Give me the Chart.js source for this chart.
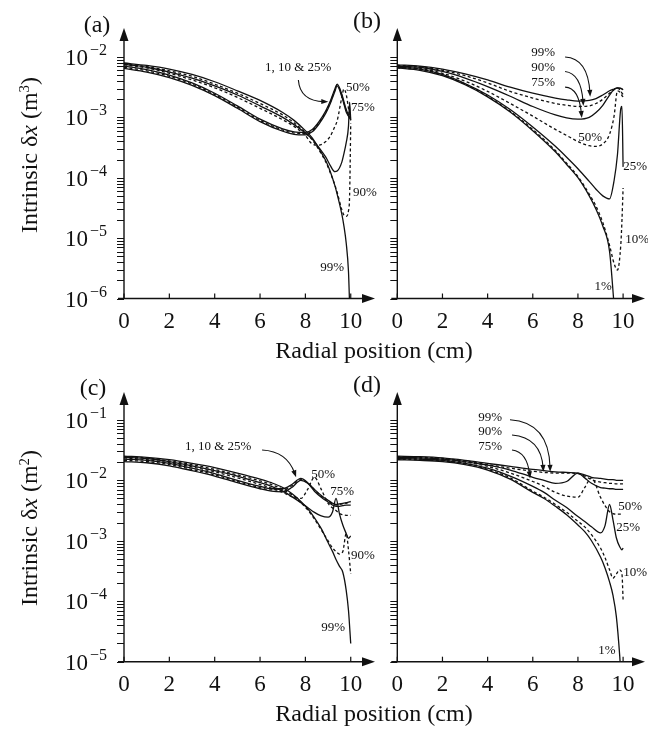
<!DOCTYPE html>
<html lang="en">

<head>
    <meta charset="UTF-8">
    <title>Intrinsic dx vs radial position</title>
    <script src="https://cdn.jsdelivr.net/npm/chart.js"></script>
    <style>
        body { margin: 0; background: #fff; }
        #wrap { position: relative; width: 648px; height: 731px; font-family: "Liberation Serif", "DejaVu Serif", serif; color: #111; }
        #wrap canvas { position: absolute; left: 0; top: 0; }
        .txt { position: absolute; white-space: nowrap; line-height: 1; transform: translate(-50%, -50%); font-size: 24px; }
        .ytitle { transform: translate(-50%, -50%) rotate(-90deg); }
        .txt sup { font-size: 0.62em; vertical-align: 0.55em; line-height: 0; }
    </style>
</head>

<body>
    <div id="wrap">
        <canvas id="pa" width="648" height="731"></canvas>
        <canvas id="pb" width="648" height="731"></canvas>
        <canvas id="pc" width="648" height="731"></canvas>
        <canvas id="pd" width="648" height="731"></canvas>
        <div class="txt" style="left:97px;top:24px">(a)</div>
        <div class="txt" style="left:367px;top:20px">(b)</div>
        <div class="txt" style="left:93px;top:387px">(c)</div>
        <div class="txt" style="left:367px;top:384px">(d)</div>
        <div class="txt ytitle" style="left:29px;top:155px">Intrinsic δ<i>x</i> (m<sup>3</sup>)</div>
        <div class="txt ytitle" style="left:29px;top:528px">Intrinsic δ<i>x</i> (m<sup>2</sup>)</div>
        <div class="txt" style="left:374px;top:350px">Radial position (cm)</div>
        <div class="txt" style="left:374px;top:713px">Radial position (cm)</div>
    </div>

    <script>
        // tick labels
        const xTicks = [0, 2, 4, 6, 8, 10];
        const mantissas = [1, 2, 3, 4, 5, 6, 7, 8, 9];
        const decadesTop = [-6, -5, -4, -3, -2];
        const decadesBottom = [-5, -4, -3, -2, -1];

        // curve values, stored as log10 of intrinsic dx
        // panel (a)
        const xA = [0, 1, 2, 3, 4, 5, 6, 7, 7.5, 8, 8.3, 8.6, 8.9, 9.1, 9.3, 9.4, 9.6, 9.7, 9.8, 9.9, 9.95, 10];
        const a99 = [-2.10, -2.14, -2.20, -2.29, -2.41, -2.56, -2.72, -2.92, -3.05, -3.22, -3.34, -3.52, -3.72, -3.90, -4.13, -4.27, -4.59, -4.80, -5.08, -5.55, -6.1, null];
        const a90 = [-2.11, -2.16, -2.23, -2.32, -2.45, -2.60, -2.77, -2.96, -3.09, -3.25, -3.37, -3.54, -3.74, -3.92, -4.12, -4.24, -4.52, -4.62, -4.64, -4.55, -4.3, -3.1];
        const a75 = [-2.12, -2.17, -2.25, -2.35, -2.48, -2.63, -2.81, -3.00, -3.12, -3.26, -3.36, -3.50, -3.66, -3.80, -3.90, -3.89, -3.75, -3.60, -3.42, -3.15, -2.75, -3.05];
        const a50 = [-2.13, -2.18, -2.27, -2.38, -2.51, -2.67, -2.85, -3.04, -3.15, -3.30, -3.44, -3.46, -3.40, -3.31, -3.15, -3.06, -2.68, -2.53, -2.62, -2.85, -2.98, -3.05];
        const a25 = [-2.15, -2.21, -2.30, -2.43, -2.60, -2.81, -3.03, -3.19, -3.24, -3.25, -3.20, -3.07, -2.89, -2.73, -2.53, -2.45, -2.61, -2.74, -2.87, -2.96, -2.99, -3.01];
        const a10 = [-2.17, -2.23, -2.32, -2.45, -2.62, -2.83, -3.05, -3.21, -3.26, -3.27, -3.22, -3.09, -2.91, -2.75, -2.55, -2.46, -2.63, -2.76, -2.89, -2.97, -3.00, -3.02];
        const a1 = [-2.19, -2.25, -2.34, -2.47, -2.64, -2.85, -3.07, -3.23, -3.28, -3.29, -3.24, -3.11, -2.93, -2.77, -2.57, -2.48, -2.65, -2.78, -2.91, -2.98, -3.01, -3.03];

        // panel (b)
        const xB = [0, 1, 2, 3, 4, 5, 6, 7, 7.5, 8, 8.5, 8.8, 9.1, 9.4, 9.6, 9.75, 9.9, 9.95, 10];
        const b99 = [-2.13, -2.15, -2.20, -2.28, -2.38, -2.50, -2.60, -2.68, -2.71, -2.73, -2.72, -2.69, -2.63, -2.56, -2.53, -2.51, -2.52, -2.53, -2.54];
        const b90 = [-2.14, -2.16, -2.22, -2.31, -2.43, -2.57, -2.68, -2.77, -2.80, -2.82, -2.81, -2.77, -2.70, -2.60, -2.54, -2.52, -2.56, -2.60, -2.62];
        const b75 = [-2.15, -2.17, -2.24, -2.35, -2.49, -2.65, -2.82, -2.96, -3.01, -3.03, -3.00, -2.92, -2.80, -2.63, -2.54, -2.51, -2.52, -2.53, -2.54];
        const b50 = [-2.16, -2.19, -2.27, -2.40, -2.57, -2.77, -2.98, -3.20, -3.30, -3.40, -3.47, -3.48, -3.44, -3.28, -2.98, -2.56, -2.60, -2.64, -2.66];
        const b25 = [-2.17, -2.20, -2.29, -2.44, -2.63, -2.87, -3.16, -3.48, -3.66, -3.85, -4.06, -4.19, -4.30, -4.35, -4.05, -3.62, -2.85, -2.82, -3.82];
        const b10 = [-2.18, -2.21, -2.30, -2.45, -2.65, -2.90, -3.20, -3.55, -3.76, -3.98, -4.27, -4.47, -4.74, -5.12, -5.42, -5.53, -5.10, -4.70, -4.17];
        const b1 = [-2.18, -2.22, -2.31, -2.46, -2.66, -2.91, -3.22, -3.57, -3.78, -4.00, -4.30, -4.52, -4.80, -5.22, -6.1, null, null, null, null];

        // panel (c)
        const xC = [0, 1, 2, 3, 4, 5, 6, 6.5, 7, 7.4, 7.8, 8.1, 8.4, 8.7, 9, 9.2, 9.35, 9.5, 9.65, 9.8, 9.9, 10];
        const c99 = [-1.60, -1.62, -1.66, -1.72, -1.79, -1.88, -1.98, -2.04, -2.12, -2.22, -2.35, -2.47, -2.62, -2.80, -3.03, -3.18, -3.31, -3.42, -3.52, -3.82, -4.15, -4.70];
        const c90 = [-1.61, -1.63, -1.68, -1.74, -1.82, -1.91, -2.01, -2.07, -2.15, -2.24, -2.37, -2.49, -2.64, -2.82, -3.00, -3.12, -3.18, -3.22, -3.18, -2.88, -3.15, -3.55];
        const c75 = [-1.62, -1.64, -1.69, -1.76, -1.84, -1.93, -2.04, -2.10, -2.18, -2.27, -2.37, -2.45, -2.53, -2.59, -2.61, -2.52, -2.30, -2.55, -2.74, -2.88, -2.96, -2.92];
        const c50 = [-1.63, -1.66, -1.71, -1.78, -1.86, -1.96, -2.07, -2.13, -2.20, -2.27, -2.30, -2.15, -1.95, -2.15, -2.38, -2.46, -2.50, -2.55, -2.57, -2.58, -2.58, -2.58];
        const c25 = [-1.65, -1.67, -1.72, -1.80, -1.89, -2.00, -2.10, -2.14, -2.14, -2.07, -1.97, -2.04, -2.15, -2.25, -2.33, -2.38, -2.40, -2.39, -2.38, -2.37, -2.36, -2.35];
        const c10 = [-1.67, -1.69, -1.74, -1.82, -1.91, -2.02, -2.12, -2.16, -2.16, -2.09, -1.99, -2.04, -2.16, -2.26, -2.34, -2.39, -2.41, -2.40, -2.39, -2.38, -2.37, -2.37];
        const c1 = [-1.69, -1.71, -1.76, -1.84, -1.93, -2.04, -2.14, -2.18, -2.19, -2.12, -2.00, -2.05, -2.18, -2.28, -2.36, -2.41, -2.43, -2.43, -2.42, -2.41, -2.41, -2.41];

        // panel (d)
        const xD = [0, 1, 2, 3, 4, 5, 6, 6.5, 7, 7.5, 8, 8.3, 8.6, 9, 9.2, 9.4, 9.55, 9.7, 9.85, 9.95, 10];
        const d99 = [-1.60, -1.61, -1.63, -1.67, -1.72, -1.77, -1.82, -1.84, -1.86, -1.87, -1.88, -1.91, -1.95, -1.97, -1.98, -1.99, -1.99, -2.00, -2.00, -2.00, -2.00];
        const d90 = [-1.61, -1.62, -1.64, -1.68, -1.74, -1.80, -1.85, -1.87, -1.88, -1.88, -1.89, -1.93, -1.99, -2.03, -2.04, -2.05, -2.05, -2.06, -2.06, -2.06, -2.06];
        const d75 = [-1.62, -1.63, -1.65, -1.69, -1.75, -1.83, -1.95, -2.00, -2.05, -2.02, -1.88, -1.96, -2.05, -2.12, -2.13, -2.14, -2.14, -2.15, -2.15, -2.15, -2.15];
        const d50 = [-1.63, -1.64, -1.66, -1.70, -1.77, -1.88, -2.02, -2.10, -2.20, -2.26, -2.28, -2.12, -1.96, -2.28, -2.42, -2.52, -2.55, -2.56, -2.56, -2.56, -2.56];
        const d25 = [-1.64, -1.65, -1.67, -1.72, -1.80, -1.93, -2.10, -2.20, -2.33, -2.45, -2.60, -2.68, -2.77, -2.87, -2.75, -2.40, -2.65, -2.95, -3.10, -3.15, -3.12];
        const d10 = [-1.65, -1.66, -1.68, -1.73, -1.82, -1.96, -2.18, -2.28, -2.40, -2.53, -2.68, -2.77, -2.90, -3.12, -3.28, -3.48, -3.62, -3.55, -3.48, -3.55, -3.98];
        const d1 = [-1.66, -1.67, -1.69, -1.74, -1.83, -1.98, -2.20, -2.30, -2.43, -2.57, -2.74, -2.85, -3.00, -3.27, -3.45, -3.68, -3.90, -4.25, -4.90, -5.50, null];

        // curve labels: [text, x, log10 y]
        const notesA = [['1, 10 & 25%', 7.68, -2.18], ['50%', 10.32, -2.50], ['75%', 10.54, -2.83], ['90%', 10.63, -4.24], ['99%', 9.18, -5.48]];
        const notesB = [['99%', 6.46, -1.93], ['90%', 6.46, -2.18], ['75%', 6.46, -2.43], ['50%', 8.54, -3.33], ['25%', 10.53, -3.82], ['10%', 10.62, -5.03], ['1%', 9.12, -5.81]];
        const notesC = [['1, 10 & 25%', 4.15, -1.45], ['50%', 8.78, -1.91], ['75%', 9.62, -2.18], ['90%', 10.54, -3.24], ['99%', 9.22, -4.44]];
        const notesD = [['99%', 4.11, -0.96], ['90%', 4.11, -1.20], ['75%', 4.11, -1.44], ['50%', 10.31, -2.44], ['25%', 10.22, -2.79], ['10%', 10.53, -3.52], ['1%', 9.28, -4.81]];

        // pointer arrows: start, bend, tip as [x, log10 y]
        const arrowsA = [[[7.69, -2.38], [7.76, -2.73], [9.01, -2.74]]];
        const arrowsB = [
            [[7.43, -2.00], [8.45, -2.02], [8.54, -2.66]],
            [[7.43, -2.24], [8.14, -2.27], [8.24, -2.81]],
            [[7.43, -2.50], [8.05, -2.51], [8.17, -3.01]]
        ];
        const arrowsC = [[[6.09, -1.50], [7.19, -1.52], [7.59, -1.95]]];
        const arrowsD = [
            [[4.99, -1.00], [6.72, -1.04], [6.77, -1.86]],
            [[5.08, -1.25], [6.37, -1.29], [6.47, -1.86]],
            [[5.08, -1.50], [5.75, -1.53], [5.88, -1.97]]
        ];

        const ink = '#111';
        const serif = '"Liberation Serif", "DejaVu Serif", serif';

        const framePlugin = {
            id: 'frame',
            afterDatasetsDraw(chart) {
                const o = chart.options.plugins.frame;
                const ctx = chart.ctx;
                const ca = chart.chartArea;
                const sx = chart.scales.x;
                const sy = chart.scales.y;
                const L = ca.left, B = ca.bottom;
                const P = (pt) => [sx.getPixelForValue(pt[0]), sy.getPixelForValue(Math.pow(10, pt[1]))];

                ctx.save();
                ctx.strokeStyle = ink;
                ctx.fillStyle = ink;

                // axis lines and arrow heads
                ctx.lineWidth = 1.4;
                ctx.beginPath();
                ctx.moveTo(L - 6, B);
                ctx.lineTo(ca.right - 8, B);
                ctx.moveTo(L, B);
                ctx.lineTo(L, ca.top + 8);
                ctx.stroke();
                ctx.beginPath();
                ctx.moveTo(ca.right, B);
                ctx.lineTo(ca.right - 13, B - 4.5);
                ctx.lineTo(ca.right - 13, B + 4.5);
                ctx.closePath();
                ctx.fill();
                ctx.beginPath();
                ctx.moveTo(L, ca.top);
                ctx.lineTo(L - 4.5, ca.top + 13);
                ctx.lineTo(L + 4.5, ca.top + 13);
                ctx.closePath();
                ctx.fill();

                // x ticks point inwards
                ctx.lineWidth = 1.2;
                ctx.font = '23px ' + serif;
                ctx.textAlign = 'center';
                ctx.textBaseline = 'alphabetic';
                xTicks.forEach(v => {
                    const px = sx.getPixelForValue(v);
                    ctx.beginPath();
                    ctx.moveTo(px, B);
                    ctx.lineTo(px, B - 5);
                    ctx.stroke();
                    ctx.fillText(String(v), px, B + 29);
                });

                // log ticks on the left of the y axis
                ctx.lineWidth = 1;
                o.decades.forEach((e, i) => {
                    const mm = i === o.decades.length - 1 ? [1] : mantissas;
                    mm.forEach(m => {
                        const py = Math.round(sy.getPixelForValue(m * Math.pow(10, e))) + 0.5;
                        ctx.beginPath();
                        ctx.moveTo(L - 7, py);
                        ctx.lineTo(L, py);
                        ctx.stroke();
                    });
                    if (o.labels) {
                        const py = sy.getPixelForValue(Math.pow(10, e));
                        const sup = '\u2212' + Math.abs(e);
                        ctx.textAlign = 'right';
                        ctx.font = '16px ' + serif;
                        const w = ctx.measureText(sup).width;
                        ctx.fillText(sup, L - 17, py - 2);
                        ctx.font = '23px ' + serif;
                        ctx.fillText('10', L - 19 - w, py + 8);
                    }
                });

                // curve labels
                ctx.font = '13px ' + serif;
                ctx.textAlign = 'center';
                ctx.textBaseline = 'middle';
                o.notes.forEach(n => {
                    const p = P([n[1], n[2]]);
                    ctx.fillText(n[0], p[0], p[1]);
                });

                // curved pointers
                ctx.lineWidth = 1.1;
                o.arrows.forEach(a => {
                    const s = P(a[0]), c = P(a[1]), t = P(a[2]);
                    const ang = Math.atan2(t[1] - c[1], t[0] - c[0]);
                    const cs = Math.cos(ang), sn = Math.sin(ang);
                    ctx.beginPath();
                    ctx.moveTo(s[0], s[1]);
                    ctx.quadraticCurveTo(c[0], c[1], t[0] - 4 * cs, t[1] - 4 * sn);
                    ctx.stroke();
                    ctx.beginPath();
                    ctx.moveTo(t[0], t[1]);
                    ctx.lineTo(t[0] - 7 * cs + 2.6 * sn, t[1] - 7 * sn - 2.6 * cs);
                    ctx.lineTo(t[0] - 7 * cs - 2.6 * sn, t[1] - 7 * sn + 2.6 * cs);
                    ctx.closePath();
                    ctx.fill();
                });
                ctx.restore();
            }
        };

        function curve(xs, ly, dashed) {
            return {
                data: xs.map((x, i) => ({ x: x, y: ly[i] === null ? null : Math.pow(10, ly[i]) })),
                borderColor: ink,
                borderWidth: 1.3,
                borderDash: dashed ? [3, 2.5] : [],
                pointRadius: 0,
                fill: false,
                cubicInterpolationMode: 'monotone'
            };
        }

        function makePanel(id, area, xMax, yLo, yHi, decades, labels, xs, series, notes, arrows) {
            new Chart(document.getElementById(id), {
                type: 'line',
                data: { datasets: series.map(s => curve(xs, s[0], s[1])) },
                options: {
                    responsive: false,
                    animation: false,
                    events: [],
                    layout: { padding: { left: area[0], top: area[1], right: 648 - area[2], bottom: 731 - area[3] } },
                    plugins: {
                        legend: { display: false },
                        tooltip: { enabled: false },
                        frame: { decades: decades, labels: labels, notes: notes, arrows: arrows }
                    },
                    scales: {
                        x: { type: 'linear', display: false, min: 0, max: xMax },
                        y: { type: 'logarithmic', display: false, min: Math.pow(10, yLo), max: Math.pow(10, yHi) }
                    }
                },
                plugins: [framePlugin]
            });
        }

        makePanel('pa', [124, 28, 375, 298.5], 11.07, -6, -1.52, decadesTop, true, xA,
            [[a1, false], [a10, true], [a25, false], [a50, true], [a75, false], [a90, true], [a99, false]], notesA, arrowsA);
        makePanel('pb', [397.3, 28, 645, 298.5], 10.97, -6, -1.52, decadesTop, false, xB,
            [[b1, false], [b10, true], [b25, false], [b50, true], [b75, false], [b90, true], [b99, false]], notesB, arrowsB);
        makePanel('pc', [124, 392, 375, 661.7], 11.07, -5, -0.54, decadesBottom, true, xC,
            [[c1, false], [c10, true], [c25, false], [c50, true], [c75, false], [c90, true], [c99, false]], notesC, arrowsC);
        makePanel('pd', [397.3, 392, 645, 661.7], 10.97, -5, -0.54, decadesBottom, false, xD,
            [[d1, false], [d10, true], [d25, false], [d50, true], [d75, false], [d90, true], [d99, false]], notesD, arrowsD);
    </script>
</body>

</html>
